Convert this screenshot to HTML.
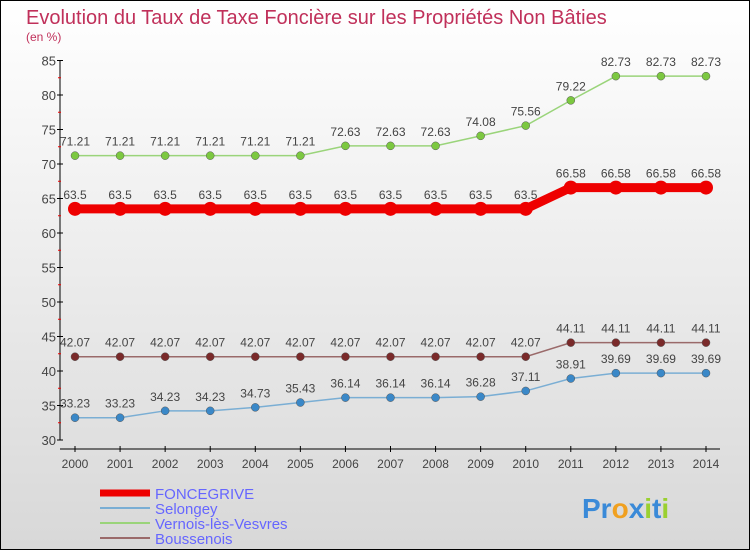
<!DOCTYPE html>
<html><head><meta charset="utf-8"><style>
body{margin:0;}
#c{width:750px;height:550px;position:relative;box-sizing:border-box;border:1px solid #000;background:linear-gradient(#fff,#d8d8d8);overflow:hidden;font-family:"Liberation Sans",sans-serif;}
</style></head><body>
<div id="c">
<svg id="s" width="750" height="550" style="position:absolute;left:-1px;top:-1px">
<text x="26" y="24" font-size="20" fill="#c0305a">Evolution du Taux de Taxe Foncière sur les Propriétés Non Bâties</text>
<text x="26" y="41" font-size="12" fill="#c0305a">(en %)</text>
<g id="axes"></g><g id="series"></g>
<g font-size="15" fill="#6666ff">
<line x1="100" y1="493" x2="150" y2="493" stroke="#ee0000" stroke-width="7"/>
<text x="155" y="499">FONCEGRIVE</text>
<line x1="100" y1="508" x2="150" y2="508" stroke="#7aaed4" stroke-width="2"/>
<text x="155" y="514">Selongey</text>
<line x1="100" y1="523" x2="150" y2="523" stroke="#9ad47a" stroke-width="2"/>
<text x="155" y="529">Vernois-lès-Vesvres</text>
<line x1="100" y1="538" x2="150" y2="538" stroke="#9a6a6a" stroke-width="2"/>
<text x="155" y="544">Boussenois</text>
</g>
<text x="582" y="518" font-size="28" font-weight="bold"><tspan fill="#3a8ad8">Pr</tspan><tspan fill="#f0a020">o</tspan><tspan fill="#3a8ad8">x</tspan><tspan fill="#9ad030">i</tspan><tspan fill="#3a8ad8">t</tspan><tspan fill="#9ad030">i</tspan></text>
</svg></div>
<script>
const years=[2000,2001,2002,2003,2004,2005,2006,2007,2008,2009,2010,2011,2012,2013,2014];
const foncegrive=[63.5,63.5,63.5,63.5,63.5,63.5,63.5,63.5,63.5,63.5,63.5,66.58,66.58,66.58,66.58];
const selongey=[33.23,33.23,34.23,34.23,34.73,35.43,36.14,36.14,36.14,36.28,37.11,38.91,39.69,39.69,39.69];
const vernois=[71.21,71.21,71.21,71.21,71.21,71.21,72.63,72.63,72.63,74.08,75.56,79.22,82.73,82.73,82.73];
const boussenois=[42.07,42.07,42.07,42.07,42.07,42.07,42.07,42.07,42.07,42.07,42.07,44.11,44.11,44.11,44.11];
const yTicks=[30,35,40,45,50,55,60,65,70,75,80,85];
const NS='http://www.w3.org/2000/svg';
const x=i=>75+i*(631/14);
const y=v=>440-(v-30)*(379.5/55);
function mk(t,a,p){const e=document.createElementNS(NS,t);for(const k in a)e.setAttribute(k,a[k]);p.appendChild(e);return e;}
const ax=document.getElementById('axes');
let e=mk('line',{x1:60,y1:y(85),x2:60,y2:440,stroke:'#000'},ax);

e=mk('line',{x1:60,y1:449,x2:720,y2:449,stroke:'#000'},ax);

yTicks.forEach((v,i)=>{
 mk('line',{x1:57,y1:y(v),x2:63,y2:y(v),stroke:'#000'},ax);
 if(i<yTicks.length-1)mk('line',{x1:58,y1:y(v+2.5),x2:61,y2:y(v+2.5),stroke:'#e00'},ax);
 const t=mk('text',{x:56,y:y(v)+5,'text-anchor':'end','font-size':13,fill:'#444'},ax);t.textContent=v;
 
});
years.forEach((yr,i)=>{
 mk('line',{x1:x(i),y1:446,x2:x(i),y2:452,stroke:'#000'},ax);
 const t=mk('text',{x:x(i),y:468,'text-anchor':'middle','font-size':12,fill:'#444'},ax);t.textContent=yr;
 
});
const sg=document.getElementById('series');
function series(name,vals,col,dot,w,r){
 const g=mk('g',{},sg);
 mk('polyline',{points:vals.map((v,i)=>x(i)+','+y(v)).join(' '),fill:'none',stroke:col,'stroke-width':w},g);
 vals.forEach((v,i)=>{
  const c=mk('circle',{cx:x(i),cy:y(v),r:r,fill:dot,stroke:col==='#ee0000'?'#ee0000':'#555','stroke-width':col==='#ee0000'?0:0.5},g);
  
  const t=mk('text',{x:x(i),y:y(v)-10,'text-anchor':'middle','font-size':12,fill:'#444'},g);t.textContent=v;
  
 });
}
series('vernois',vernois,'#9ad47a','#7cc840',1.5,4);
series('foncegrive',foncegrive,'#ee0000','#ee0000',9,7);
series('boussenois',boussenois,'#9a6a6a','#7a2a2a',1.5,4);
series('selongey',selongey,'#7aaed4','#3a88c8',1.5,4);
</script>
</body></html>
